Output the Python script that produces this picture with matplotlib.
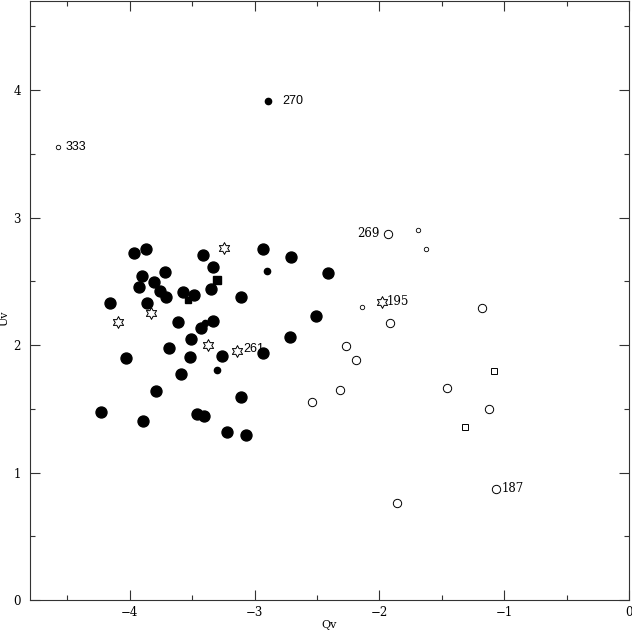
import numpy as np
import matplotlib.pyplot as plt
from matplotlib.path import Path
from matplotlib.ticker import MultipleLocator

# big filled circles
big_q = [-3.968, -3.874, -3.412, -2.931, -2.709, -2.410, -3.337, -3.722, -3.906, -3.810,
         -3.928, -3.757, -3.709, -3.575, -3.485, -3.351, -3.108, -4.158, -3.866, -3.618,
         -3.332, -3.431, -2.507, -2.717, -3.511, -2.931, -3.685, -4.030, -3.519, -3.263,
         -3.591, -3.794, -3.113, -4.232, -3.896, -3.463, -3.404, -3.222, -3.070]
big_u = [2.719, 2.753, 2.706, 2.753, 2.693, 2.562, 2.609, 2.570, 2.541, 2.494,
         2.455, 2.424, 2.374, 2.416, 2.390, 2.437, 2.379, 2.327, 2.327, 2.178,
         2.186, 2.137, 2.225, 2.063, 2.047, 1.935, 1.979, 1.898, 1.906, 1.916,
         1.770, 1.642, 1.590, 1.477, 1.406, 1.459, 1.446, 1.320, 1.294]

# small filled circles
sf_q = [-2.891, -2.904, -3.303, -3.399]
sf_u = [3.914, 2.580, 1.802, 2.176]

# filled squares (bigger, smaller)
fsq_q = [-3.305]
fsq_u = [2.510]
fsq2_q = [-3.530]
fsq2_u = [2.353]

# open stars
star_q = [-3.246, -3.829, -4.091, -3.375, -3.145, -1.980]
star_u = [2.763, 2.249, 2.178, 2.000, 1.953, 2.340]

# open circles
oc_q = [-1.929, -1.178, -1.913, -2.266, -2.188, -2.317, -1.459, -1.125, -2.539, -1.069, -1.862]
oc_u = [2.873, 2.290, 2.170, 1.995, 1.880, 1.649, 1.665, 1.498, 1.551, 0.873, 0.763]

# small open circles
so_q = [-4.575, -1.689, -1.630, -2.143]
so_u = [3.551, 2.900, 2.755, 2.298]

# open squares
osq_q = [-1.080, -1.317]
osq_u = [1.796, 1.359]

# labelled objects
lab_text = ['270', '333', '261', '269', '195', '187']
lab_q = [-2.891, -4.575, -3.145, -1.929, -1.980, -1.069]
lab_u = [3.914, 3.551, 1.953, 2.873, 2.340, 0.873]
lab_style = {
    '270': dict(dx=10.5, dy=0, ha='left', fam='Liberation Sans', fs=9),
    '333': dict(dx=5.3, dy=0, ha='left', fam='Liberation Sans', fs=9),
    '261': dict(dx=5.0, dy=1.2, ha='left', fam='Liberation Sans', fs=9),
    '269': dict(dx=-6.3, dy=0, ha='right', fam='DejaVu Serif', fs=8.5),
    '195': dict(dx=3.2, dy=0, ha='left', fam='DejaVu Serif', fs=8.5),
    '187': dict(dx=4.2, dy=0, ha='left', fam='DejaVu Serif', fs=8.5),
}

# six pointed star outline
ang = np.pi / 2 + np.arange(12) * np.pi / 6
rad = np.where(np.arange(12) % 2 == 0, 1.0, 0.55)
verts = np.column_stack([rad * np.cos(ang), rad * np.sin(ang)])
verts = np.vstack([verts, verts[:1]])
star = Path(verts, [Path.MOVETO] + [Path.LINETO] * 11 + [Path.CLOSEPOLY])

fig = plt.figure(figsize=(6.32, 6.32), dpi=100)
ax = fig.add_axes([30 / 632, 32 / 632, 599 / 632, 599 / 632])

ax.plot(big_q, big_u, 'o', ms=7.9, color='black', mec='black', ls='none')
ax.plot(sf_q, sf_u, 'o', ms=4.5, color='black', ls='none')
ax.plot(fsq_q, fsq_u, 's', ms=5.8, color='black', ls='none')
ax.plot(fsq2_q, fsq2_u, 's', ms=3.8, color='black', ls='none')
ax.plot(star_q, star_u, marker=star, ms=8.5, mfc='white', mec='black', mew=0.7, ls='none')
ax.plot(oc_q, oc_u, 'o', ms=6.0, mfc='white', mec='black', mew=0.7, ls='none')
ax.plot(so_q, so_u, 'o', ms=3.2, mfc='white', mec='black', mew=0.6, ls='none')
ax.plot(osq_q, osq_u, 's', ms=4.2, mfc='white', mec='black', mew=0.7, ls='none')

for t, q, u in zip(lab_text, lab_q, lab_u):
    st = lab_style[t]
    ax.annotate(t, (q, u), xytext=(st['dx'], st['dy']), textcoords='offset points',
                ha=st['ha'], va='center', fontsize=st['fs'], family=st['fam'])

ax.set_xlim(-4.8, 0)
ax.set_ylim(0, 4.7)
ax.xaxis.set_major_locator(MultipleLocator(1))
ax.xaxis.set_minor_locator(MultipleLocator(0.5))
ax.yaxis.set_major_locator(MultipleLocator(1))
ax.yaxis.set_minor_locator(MultipleLocator(0.5))
ax.tick_params(which='both', direction='in', top=True, right=True, width=0.8,
               color='#333333', labelsize=8.5, labelfontfamily='DejaVu Serif')
ax.tick_params(which='major', length=7.2)
ax.tick_params(which='minor', length=3.6)
ax.tick_params(axis='x', pad=4.5)
ax.tick_params(axis='y', pad=6.5)
for s in ax.spines.values():
    s.set_linewidth(0.8)
    s.set_color('#333333')

ax.set_xlabel('Qv', family='DejaVu Serif', fontsize=8)
ax.set_ylabel('Uv', family='DejaVu Serif', fontsize=8)
ax.xaxis.set_label_coords(0.5, -0.033)
ax.yaxis.set_label_coords(-0.034, 0.47)

fig.savefig('out.png', dpi=100)
